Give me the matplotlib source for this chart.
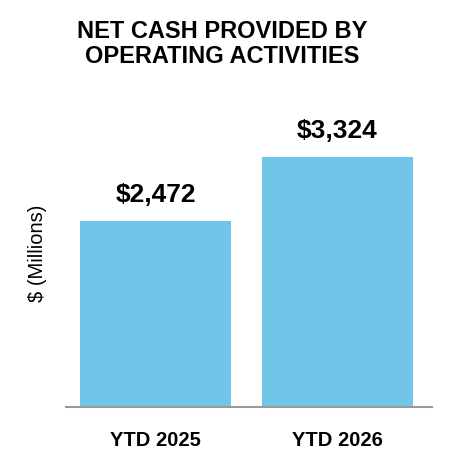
import matplotlib
matplotlib.use("Agg")
import matplotlib.pyplot as plt

categories = ["YTD 2025", "YTD 2026"]
values = [2472, 3324]
labels = ["$2,472", "$3,324"]

plt.rcParams['font.family'] = ['Liberation Sans', 'DejaVu Sans']
fig = plt.figure(figsize=(4.5, 4.66), dpi=100)
ax = fig.add_axes([66/450, 59/466, 366/450, 307/466])
x = [0, 1]
ax.bar(x, values, width=0.83, color="#70C5E8")
ax.set_xlim(-0.492, 1.519)
ax.set_ylim(0, 4080)
for xi, v, l in zip(x, values, labels):
    ax.text(xi, v + 190, l, ha="center", va="bottom", fontsize=19, fontweight="bold")
for s in ["top", "right", "left"]:
    ax.spines[s].set_visible(False)
ax.spines["bottom"].set_color("#999999")
ax.spines["bottom"].set_linewidth(1.5)
ax.set_yticks([])
ax.set_xticks(x)
ax.set_xticklabels(categories, fontsize=14.5, fontweight="bold")
ax.tick_params(axis="x", length=0, pad=17)
ax.set_ylabel("$ (Millions)", fontsize=14.5, labelpad=14)
fig.text(222/450, 1 - 44/466, "NET CASH PROVIDED BY\nOPERATING ACTIVITIES", ha="center", va="center",
         fontsize=17, fontweight="bold", linespacing=1.15)
fig.savefig("out.png", dpi=100)
